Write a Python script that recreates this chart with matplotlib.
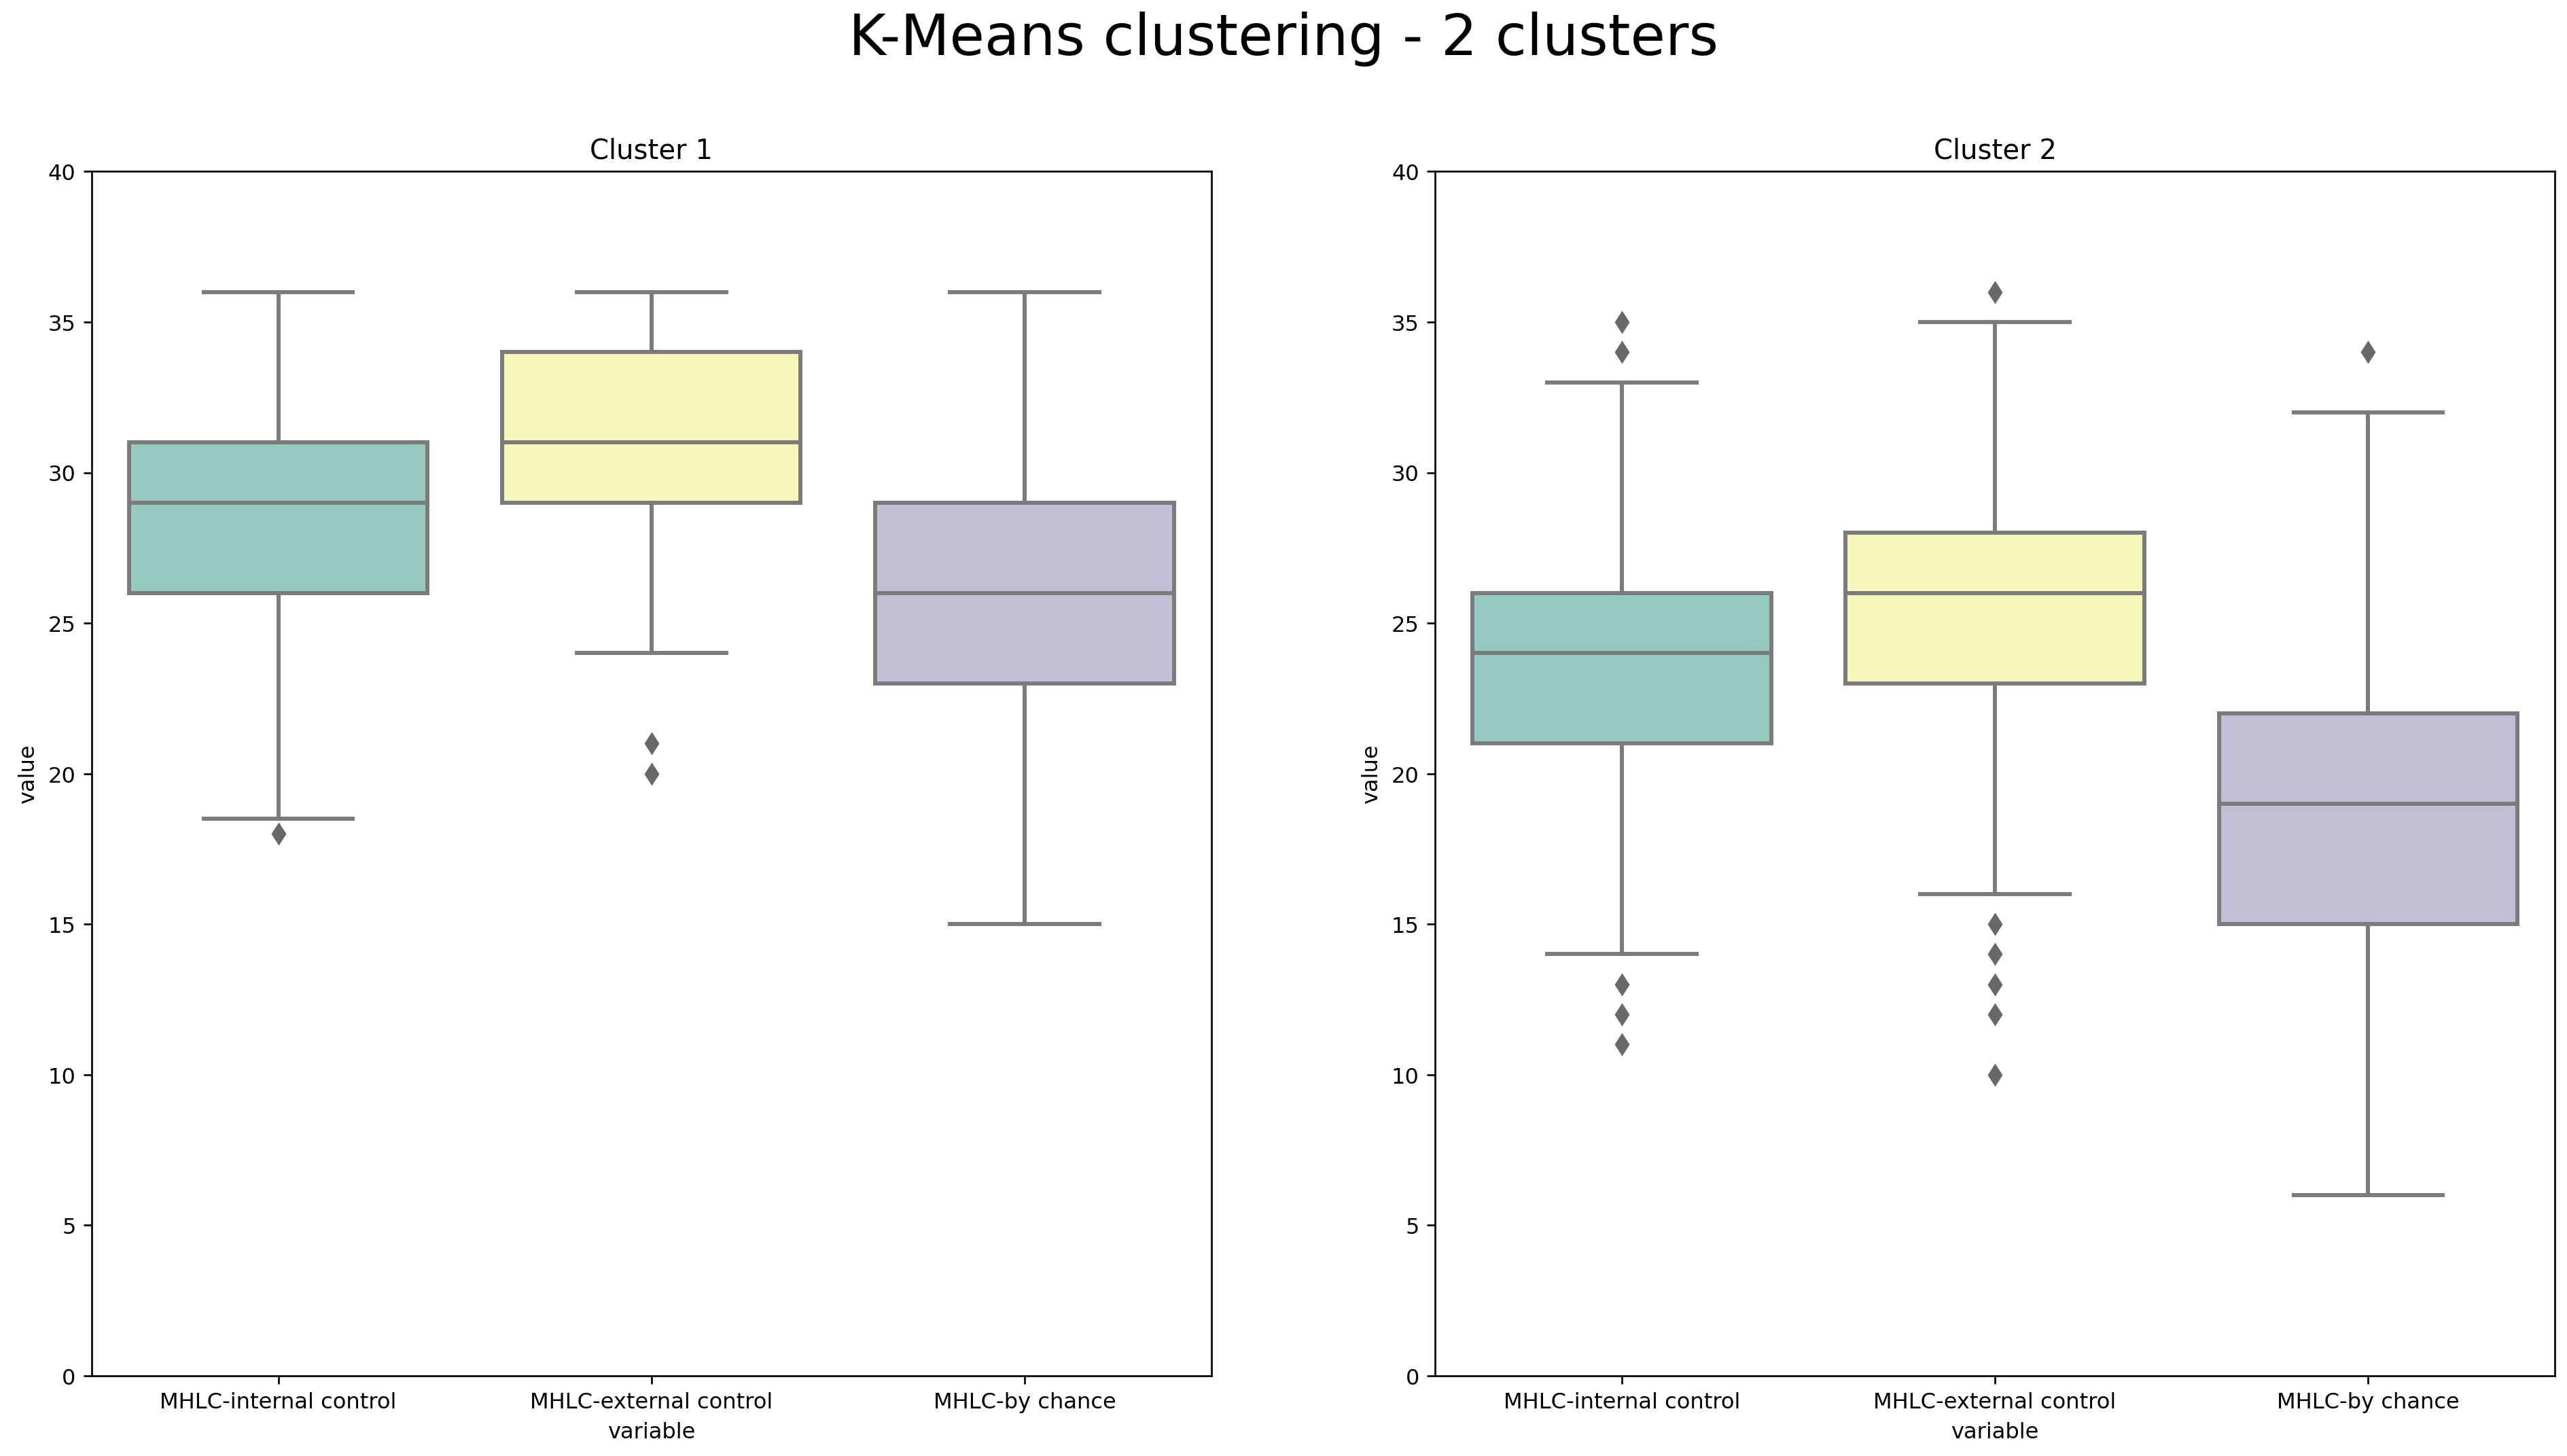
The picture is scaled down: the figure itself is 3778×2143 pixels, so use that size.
import matplotlib
matplotlib.use("Agg")
import matplotlib.pyplot as plt
import seaborn as sns

# categories on x
variables = ["MHLC-internal control", "MHLC-external control", "MHLC-by chance"]

# box statistics: [whislo, q1, med, q3, whishi]
c1_internal = [18.5, 26, 29, 31, 36]
c1_external = [24, 29, 31, 34, 36]
c1_chance = [15, 23, 26, 29, 36]
c1_outliers = [[18], [21, 20], []]

c2_internal = [14, 21, 24, 26, 33]
c2_external = [16, 23, 26, 28, 35]
c2_chance = [6, 15, 19, 22, 32]
c2_outliers = [[35, 34, 13, 12, 11], [36, 15, 14, 13, 12, 10], [34]]

clusters = {
    "Cluster 1": ([c1_internal, c1_external, c1_chance], c1_outliers),
    "Cluster 2": ([c2_internal, c2_external, c2_chance], c2_outliers),
}

# seaborn style colours (Set3, desaturated)
colors = [sns.desaturate(c, 0.75) for c in sns.color_palette("Set3", 3)]
line_gray = "#7b7b7b"
flier_gray = "#686868"

fig, axes = plt.subplots(1, 2, figsize=(15.68, 8.896), dpi=241)
fig.subplots_adjust(left=0.0357, right=0.995, top=0.8818, bottom=0.0552, wspace=0.2)

for ax, (name, (boxes, outs)) in zip(axes, clusters.items()):
    stats = []
    for b, fl, lab in zip(boxes, outs, variables):
        stats.append(dict(whislo=b[0], q1=b[1], med=b[2], q3=b[3], whishi=b[4],
                          fliers=fl, label=lab))
    bp = ax.bxp(stats, positions=range(len(stats)), widths=0.8, patch_artist=True,
                boxprops=dict(edgecolor=line_gray, linewidth=1.8),
                whiskerprops=dict(color=line_gray, linewidth=1.8),
                capprops=dict(color=line_gray, linewidth=1.8),
                medianprops=dict(color=line_gray, linewidth=1.8),
                flierprops=dict(marker="d", markersize=6, markerfacecolor=flier_gray,
                                markeredgecolor=flier_gray, linestyle="none"))
    for patch, col in zip(bp["boxes"], colors):
        patch.set_facecolor(col)
    # caps are half the box width in seaborn
    for cap in bp["caps"]:
        x0, x1 = cap.get_xdata()
        mid = (x0 + x1) / 2
        cap.set_xdata([mid - 0.2, mid + 0.2])
    ax.set_xlim(-0.5, 2.5)
    ax.set_ylim(0, 40)
    ax.set_xticks(range(len(variables)))
    ax.set_xticklabels(variables, fontsize=9.6)
    ax.tick_params(axis="y", labelsize=9.6)
    ax.set_title(name, fontsize=12)
    ax.set_xlabel("variable", fontsize=9.6)
    ax.set_ylabel("value", fontsize=9.6)

fig.suptitle("K-Means clustering - 2 clusters", fontsize=25, y=0.992)

plt.savefig("out.png")
